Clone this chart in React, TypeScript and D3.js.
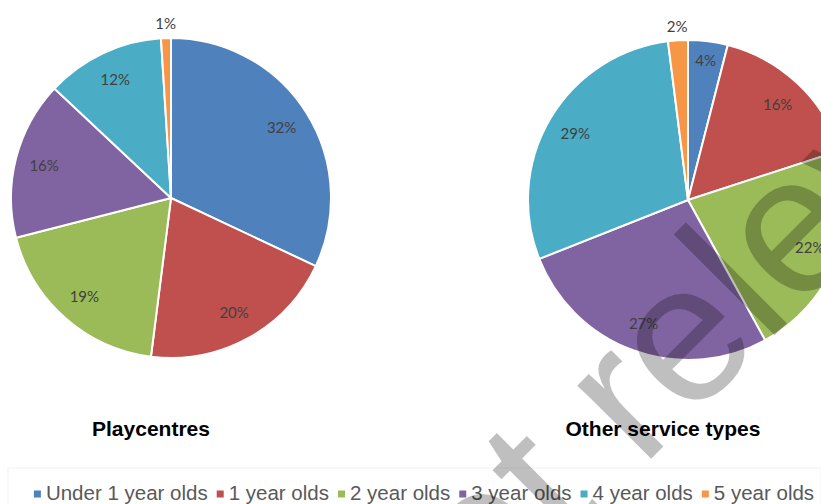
import React, { useEffect, useRef } from "react";
import * as d3 from "d3";

const categories = ["Under 1 year olds", "1 year olds", "2 year olds", "3 year olds", "4 year olds", "5 year olds"];
const playcentresValues = [32, 20, 19, 16, 12, 1];
const otherServiceValues = [4, 16, 22, 27, 29, 2];
const sliceColors = ["#4F81BD", "#C0504D", "#9BBB59", "#8064A2", "#4BACC6", "#F79646"];
const chartTitles = ["Playcentres", "Other service types"];
const watermarkText = "Not relevant";

const W = 821;
const H = 504;

export default function App() {
  const ref = useRef<SVGSVGElement | null>(null);

  useEffect(() => {
    const svg = d3.select(ref.current);
    svg.selectAll("*").remove();

    const radius = 160;
    const pies = [
      { values: playcentresValues, cx: 171, cy: 198, title: chartTitles[0], tx: 151 },
      { values: otherServiceValues, cx: 688, cy: 200, title: chartTitles[1], tx: 663 },
    ];

    const pie = d3.pie<number>().sort(null).value((d) => d).startAngle(0).endAngle(2 * Math.PI);
    const arc = d3.arc<d3.PieArcDatum<number>>().innerRadius(0).outerRadius(radius);
    const labelArc = d3.arc<d3.PieArcDatum<number>>().innerRadius(131).outerRadius(131);
    const narrowLabelArc = d3.arc<d3.PieArcDatum<number>>().innerRadius(140).outerRadius(140);
    const outerLabelArc = d3.arc<d3.PieArcDatum<number>>().innerRadius(174).outerRadius(174);

    // legend frame
    svg.append("rect")
      .attr("x", 8).attr("y", 468).attr("width", W - 8).attr("height", 60)
      .attr("fill", "none").attr("stroke", "#f2f2f2").attr("stroke-width", 1);

    pies.forEach((p) => {
      const g = svg.append("g").attr("transform", `translate(${p.cx},${p.cy})`);
      const arcs = pie(p.values);
      g.selectAll("path")
        .data(arcs)
        .join("path")
        .attr("d", arc as any)
        .attr("fill", (_d, i) => sliceColors[i])
        .attr("stroke", "#ffffff")
        .attr("stroke-width", 2)
        .attr("stroke-linejoin", "round");

      g.selectAll("text")
        .data(arcs)
        .join("text")
        .attr("transform", (d) => {
          const a = d.data <= 2 ? outerLabelArc : d.data < 5 ? narrowLabelArc : labelArc;
          const c = a.centroid(d);
          return `translate(${c[0]},${c[1]})`;
        })
        .attr("text-anchor", "middle")
        .attr("dy", "0.35em")
        .attr("font-family", "Lato, 'Open Sans', sans-serif")
        .attr("font-size", 15)
        .attr("fill", "#404040")
        .text((d) => `${d.data}%`);

      svg.append("text")
        .attr("x", p.tx)
        .attr("y", 436)
        .attr("text-anchor", "middle")
        .attr("font-family", "'Liberation Sans', Arial, sans-serif")
        .attr("font-weight", "bold")
        .attr("font-size", 21)
        .attr("fill", "#000")
        .text(p.title);
    });

    // legend
    const legend = svg.append("g");
    const fontSize = 20.5;
    const sq = 7;
    const gapText = 12;
    const gapItem = 9;
    const items = categories.map((c, i) => {
      const g = legend.append("g");
      g.append("rect").attr("width", sq).attr("height", sq).attr("y", -sq / 2 - 6).attr("fill", sliceColors[i]);
      const t = g.append("text")
        .attr("x", gapText)
        .attr("y", 0)
        .attr("font-family", "'Liberation Sans', Arial, sans-serif")
        .attr("font-size", fontSize)
        .attr("fill", "#595959")
        .text(c);
      const w = (t.node() as SVGTextElement).getComputedTextLength();
      return { g, w: gapText + w };
    });
    const total = d3.sum(items, (d) => d.w) + gapItem * (items.length - 1);
    let x = 424 - total / 2;
    items.forEach((it) => {
      it.g.attr("transform", `translate(${x},500)`);
      x += it.w + gapItem;
    });

    // watermark overlay
    svg.append("text")
      .attr("transform", "translate(386,724) rotate(-45)")
      .attr("font-family", "'Liberation Sans', Arial, sans-serif")
      .attr("font-size", 197)
      .attr("fill", "#000")
      .attr("fill-opacity", 0.25)
      .attr("pointer-events", "none")
      .text(watermarkText);
  }, []);

  return (
    <svg
      ref={ref}
      width={W}
      height={H}
      style={{ position: "absolute", left: 0, top: 0, background: "#fff" }}
    />
  );
}
